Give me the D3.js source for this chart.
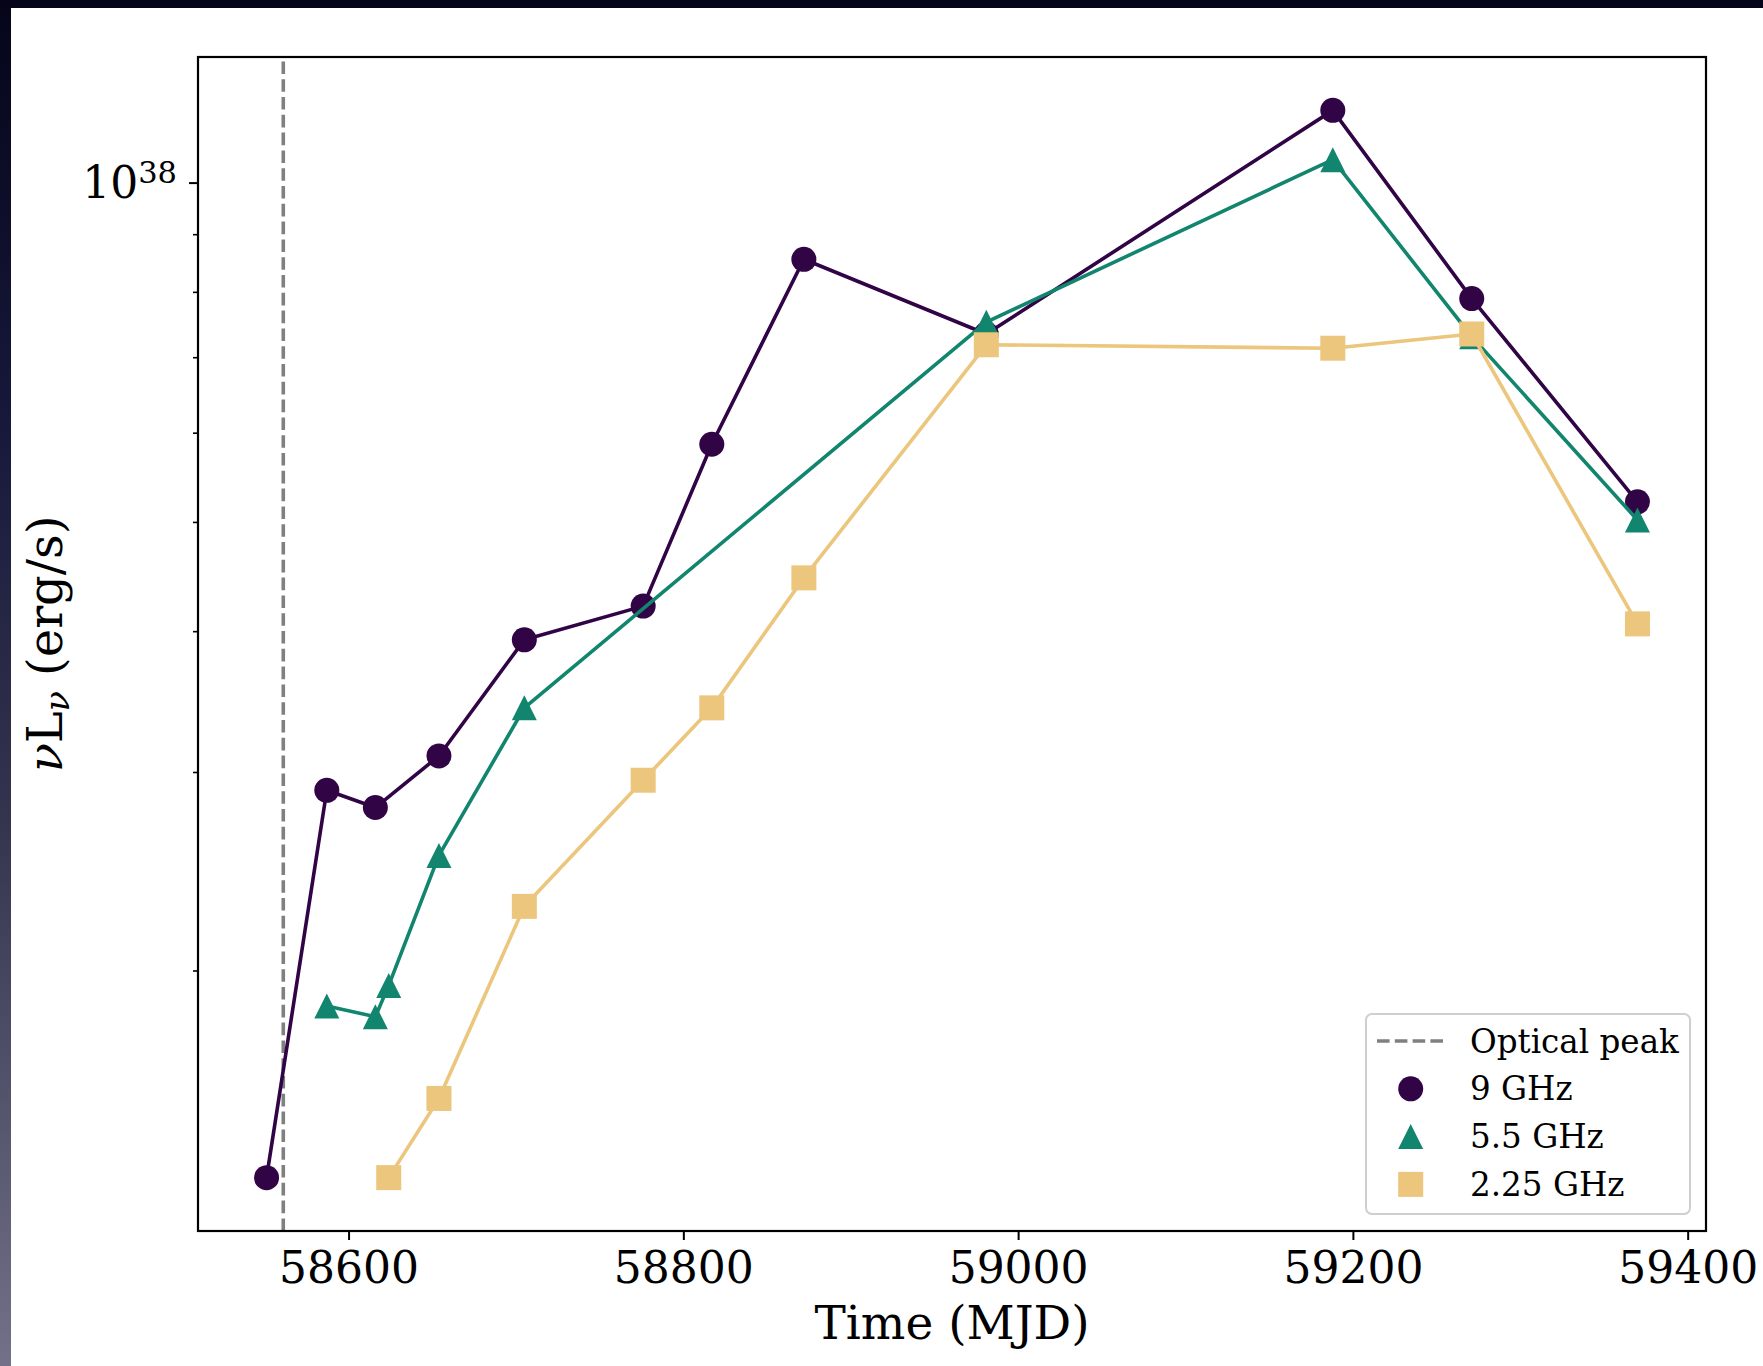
<!DOCTYPE html>
<html><head><meta charset="utf-8">
<script src="https://cdn.jsdelivr.net/npm/d3@7"></script>
<style>html,body{margin:0;padding:0;background:#fff;overflow:hidden}</style>
</head><body>
<svg id="c" width="1763" height="1366" xmlns="http://www.w3.org/2000/svg"></svg>
<script>
// ---------------- data ----------------
const opticalPeak = 58561;

const mjd9 = [58551, 58587, 58616, 58654, 58705, 58776, 58817, 58872, 58981, 59188, 59271, 59370];
const lum9 = [1.31e37, 2.89e37, 2.79e37, 3.10e37, 3.93e37, 4.21e37, 5.86e37, 8.55e37, 7.34e37, 1.159e38, 7.89e37, 5.21e37];

const mjd55 = [58587, 58616, 58624, 58654, 58705, 58981, 59188, 59271, 59370];
const lum55 = [1.86e37, 1.82e37, 1.94e37, 2.53e37, 3.42e37, 7.52e37, 1.048e38, 7.30e37, 5.02e37];

const mjd225 = [58624, 58654, 58705, 58776, 58817, 58872, 58981, 59188, 59271, 59370];
const lum225 = [1.31e37, 1.54e37, 2.28e37, 2.95e37, 3.42e37, 4.46e37, 7.18e37, 7.13e37, 7.34e37, 4.06e37];

const seriesNames = ["9 GHz", "5.5 GHz", "2.25 GHz"];
const seriesColors = ["#310446", "#12856f", "#ebc67c"];
const seriesMarkers = ["circle", "triangle", "square"];

const xTickValues = [58600, 58800, 59000, 59200, 59400];
const yMajorTicks = [1e38];
const yMinorTicks = [2e37, 3e37, 4e37, 5e37, 6e37, 7e37, 8e37, 9e37];

const xLabel = "Time (MJD)";
const legendPeakLabel = "Optical peak";

// ---------------- layout ----------------
const W = 1763, H = 1366;
const plot = {left: 198, right: 1706, top: 57, bottom: 1231};
const FONT = "'DejaVu Serif', serif";

const svg = d3.select("#c");

// background (screenshot border)
const defs = svg.append("defs");
const lg = defs.append("linearGradient").attr("id", "leftg").attr("x1", 0).attr("y1", 0).attr("x2", 0).attr("y2", 1);
[[0, "#05051a"], [0.3, "#17173a"], [0.6, "#34344f"], [1, "#737189"]].forEach(([o, c]) =>
  lg.append("stop").attr("offset", o).attr("stop-color", c));
svg.append("rect").attr("width", W).attr("height", H).attr("fill", "#ffffff");
svg.append("rect").attr("x", 0).attr("y", 0).attr("width", 11).attr("height", H).attr("fill", "url(#leftg)");
svg.append("rect").attr("x", 0).attr("y", 0).attr("width", W).attr("height", 8).attr("fill", "#05051a");

// ---------------- scales ----------------
const allX = mjd9.concat(mjd55, mjd225);
const allY = lum9.concat(lum55, lum225);
const xmin = d3.min(allX), xmax = d3.max(allX), xr = xmax - xmin;
const lmin = Math.log10(d3.min(allY)), lmax = Math.log10(d3.max(allY)), lr = lmax - lmin;

const x = d3.scaleLinear().domain([xmin - 0.05 * xr, xmax + 0.05 * xr]).range([plot.left, plot.right]);
const y = d3.scaleLog().domain([Math.pow(10, lmin - 0.05 * lr), Math.pow(10, lmax + 0.05 * lr)]).range([plot.bottom, plot.top]);

// ---------------- axes ----------------
const xAxisG = svg.append("g").attr("transform", `translate(0,${plot.bottom})`)
  .call(d3.axisBottom(x).tickValues(xTickValues).tickSize(9).tickFormat(d3.format("d")));
xAxisG.select(".domain").remove();
xAxisG.selectAll(".tick line").attr("stroke", "#000").attr("stroke-width", 2);
xAxisG.selectAll(".tick text").attr("y", 52).attr("dy", 0)
  .attr("font-family", FONT).attr("font-size", 44).attr("fill", "#000");

const yMinorG = svg.append("g").attr("transform", `translate(${plot.left},0)`)
  .call(d3.axisLeft(y).tickValues(yMinorTicks).tickSize(5).tickFormat(""));
yMinorG.select(".domain").remove();
yMinorG.selectAll(".tick line").attr("stroke", "#000").attr("stroke-width", 1.6);

const yMajorG = svg.append("g").attr("transform", `translate(${plot.left},0)`)
  .call(d3.axisLeft(y).tickValues(yMajorTicks).tickSize(9).tickFormat(""));
yMajorG.select(".domain").remove();
yMajorG.selectAll(".tick line").attr("stroke", "#000").attr("stroke-width", 2);

// 10^38 label
yMajorTicks.forEach(v => {
  const exp = Math.round(Math.log10(v));
  const t = svg.append("text").attr("x", plot.left - 21).attr("y", y(v) + 15)
    .attr("text-anchor", "end").attr("font-family", FONT).attr("fill", "#000");
  t.append("tspan").attr("font-size", 44).text("10");
  t.append("tspan").attr("font-size", 30.5).attr("dy", -15).text(String(exp));
});

// axis labels
svg.append("text").attr("x", (plot.left + plot.right) / 2).attr("y", 1339)
  .attr("text-anchor", "middle").attr("font-family", FONT).attr("font-size", 47).attr("fill", "#000")
  .text(xLabel);

const yl = svg.append("text")
  .attr("transform", `translate(62,${(plot.top + plot.bottom) / 2}) rotate(-90)`)
  .attr("text-anchor", "middle").attr("font-family", FONT).attr("font-size", 48).attr("fill", "#000");
yl.append("tspan").attr("font-style", "italic").text("ν");
yl.append("tspan").text("L");
yl.append("tspan").attr("font-style", "italic").attr("font-size", 33).attr("dy", 7).text("ν");
yl.append("tspan").attr("dy", -7).text(" (erg/s)");

// ---------------- plot content ----------------
const clip = defs.append("clipPath").attr("id", "pclip");
clip.append("rect").attr("x", plot.left).attr("y", plot.top).attr("width", plot.right - plot.left).attr("height", plot.bottom - plot.top);
const g = svg.append("g").attr("clip-path", "url(#pclip)");

// optical peak dashed line (drawn from bottom to top)
g.append("line").attr("x1", x(opticalPeak)).attr("x2", x(opticalPeak))
  .attr("y1", plot.bottom).attr("y2", plot.top)
  .attr("stroke", "#808080").attr("stroke-width", 3.6).attr("stroke-dasharray", "12.6,5.2");

const MS = 25;
function drawMarker(sel, type, cx, cy, color) {
  if (type === "circle") {
    sel.append("circle").attr("cx", cx).attr("cy", cy).attr("r", MS / 2).attr("fill", color);
  } else if (type === "triangle") {
    const h = MS / 2;
    sel.append("path").attr("d", `M${cx},${cy - h}L${cx - h},${cy + h}L${cx + h},${cy + h}Z`).attr("fill", color);
  } else {
    sel.append("rect").attr("x", cx - MS / 2).attr("y", cy - MS / 2).attr("width", MS).attr("height", MS).attr("fill", color);
  }
}

const seriesX = [mjd9, mjd55, mjd225];
const seriesY = [lum9, lum55, lum225];
const line = d3.line().x(d => x(d[0])).y(d => y(d[1]));

seriesNames.forEach((name, i) => {
  const pts = seriesX[i].map((m, k) => [m, seriesY[i][k]]);
  const sg = g.append("g");
  sg.append("path").datum(pts).attr("d", line).attr("fill", "none")
    .attr("stroke", seriesColors[i]).attr("stroke-width", 3.6).attr("stroke-linejoin", "round");
  pts.forEach(p => drawMarker(sg, seriesMarkers[i], x(p[0]), y(p[1]), seriesColors[i]));
});

// frame
svg.append("rect").attr("x", plot.left).attr("y", plot.top)
  .attr("width", plot.right - plot.left).attr("height", plot.bottom - plot.top)
  .attr("fill", "none").attr("stroke", "#000").attr("stroke-width", 2.2);

// ---------------- legend ----------------
const leg = svg.append("g");
leg.append("rect").attr("x", 1366).attr("y", 1014).attr("width", 324).attr("height", 200)
  .attr("rx", 6).attr("fill", "#fff").attr("fill-opacity", 0.8)
  .attr("stroke", "#cfcfcf").attr("stroke-width", 2);
const rowY = i => 1041 + 47.8 * i;
leg.append("line").attr("x1", 1377).attr("x2", 1443).attr("y1", rowY(0)).attr("y2", rowY(0))
  .attr("stroke", "#808080").attr("stroke-width", 3.6).attr("stroke-dasharray", "12.6,5.2");
leg.append("text").attr("x", 1470).attr("y", rowY(0) + 11.5).attr("font-family", FONT)
  .attr("font-size", 32.6).attr("fill", "#000").text(legendPeakLabel);
seriesNames.forEach((name, i) => {
  drawMarker(leg, seriesMarkers[i], 1410.7, rowY(i + 1), seriesColors[i]);
  leg.append("text").attr("x", 1470).attr("y", rowY(i + 1) + 11.5).attr("font-family", FONT)
    .attr("font-size", 32.6).attr("fill", "#000").text(name);
});
</script>
</body></html>
